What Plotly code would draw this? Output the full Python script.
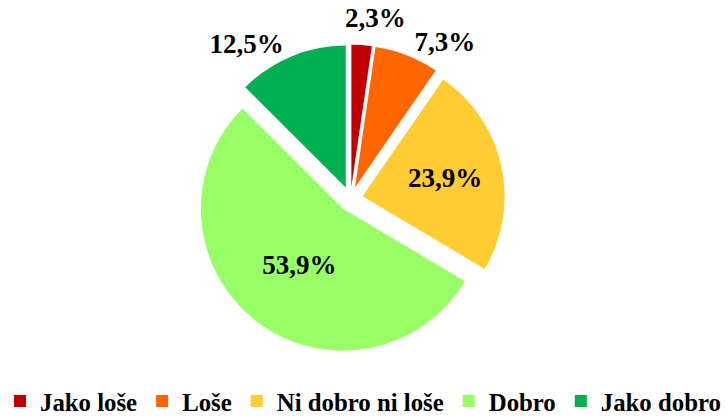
import plotly.graph_objects as go

labels = ["Jako loše", "Loše", "Ni dobro ni loše", "Dobro", "Jako dobro"]
values = [2.3, 7.3, 23.9, 53.9, 12.5]
text_labels = ["2,3%", "7,3%", "23,9%", "53,9%", "12,5%"]
colors = ["#C00000", "#FF6600", "#FFCC33", "#99FF66", "#00B050"]

SERIF = "Liberation Serif"
PULL = 0.087
DOMAIN = dict(x=[0.2694, 0.6935], y=[0.1505, 0.8928])
# transparent helper pie used only to place the smallest slice's label
LABEL_DOMAIN = dict(x=[0.2185, 0.6757], y=[0.1216, 0.9216])
label_font = dict(family=SERIF, size=27, color="black", weight="bold")

# main pie: slices, legend and most labels
main = go.Pie(
    labels=labels,
    values=values,
    text=text_labels,
    texttemplate="%{text}",
    textposition=["none", "outside", "inside", "inside", "outside"],
    insidetextorientation="horizontal",
    sort=False,
    direction="clockwise",
    rotation=0,
    pull=PULL,
    marker=dict(colors=colors, line=dict(color="white", width=0)),
    outsidetextfont=label_font,
    insidetextfont=label_font,
    textfont=label_font,
    domain=DOMAIN,
    hoverinfo="label+percent",
)

# transparent pie carrying only the smallest slice's label
overlay = go.Pie(
    labels=labels,
    values=values,
    text=text_labels,
    texttemplate="%{text}",
    textposition=["outside", "none", "none", "none", "none"],
    sort=False,
    direction="clockwise",
    rotation=0,
    pull=PULL,
    marker=dict(colors=["rgba(0,0,0,0)"] * len(labels), line=dict(width=0)),
    outsidetextfont=label_font,
    textfont=label_font,
    domain=LABEL_DOMAIN,
    showlegend=False,
    hoverinfo="skip",
)

fig = go.Figure([main, overlay])

fig.update_layout(
    width=728, height=416,
    margin=dict(l=0, r=0, t=0, b=0, autoexpand=False),
    paper_bgcolor="white",
    plot_bgcolor="white",
    font=dict(family=SERIF, size=20, color="black"),
    showlegend=True,
    legend=dict(
        orientation="h",
        x=0.0, xanchor="left",
        y=-0.02, yanchor="bottom",
        font=dict(family=SERIF, size=24.8, color="black", weight="bold"),
        itemwidth=30,
        bgcolor="rgba(0,0,0,0)",
    ),
)

fig.write_html("out.html")
